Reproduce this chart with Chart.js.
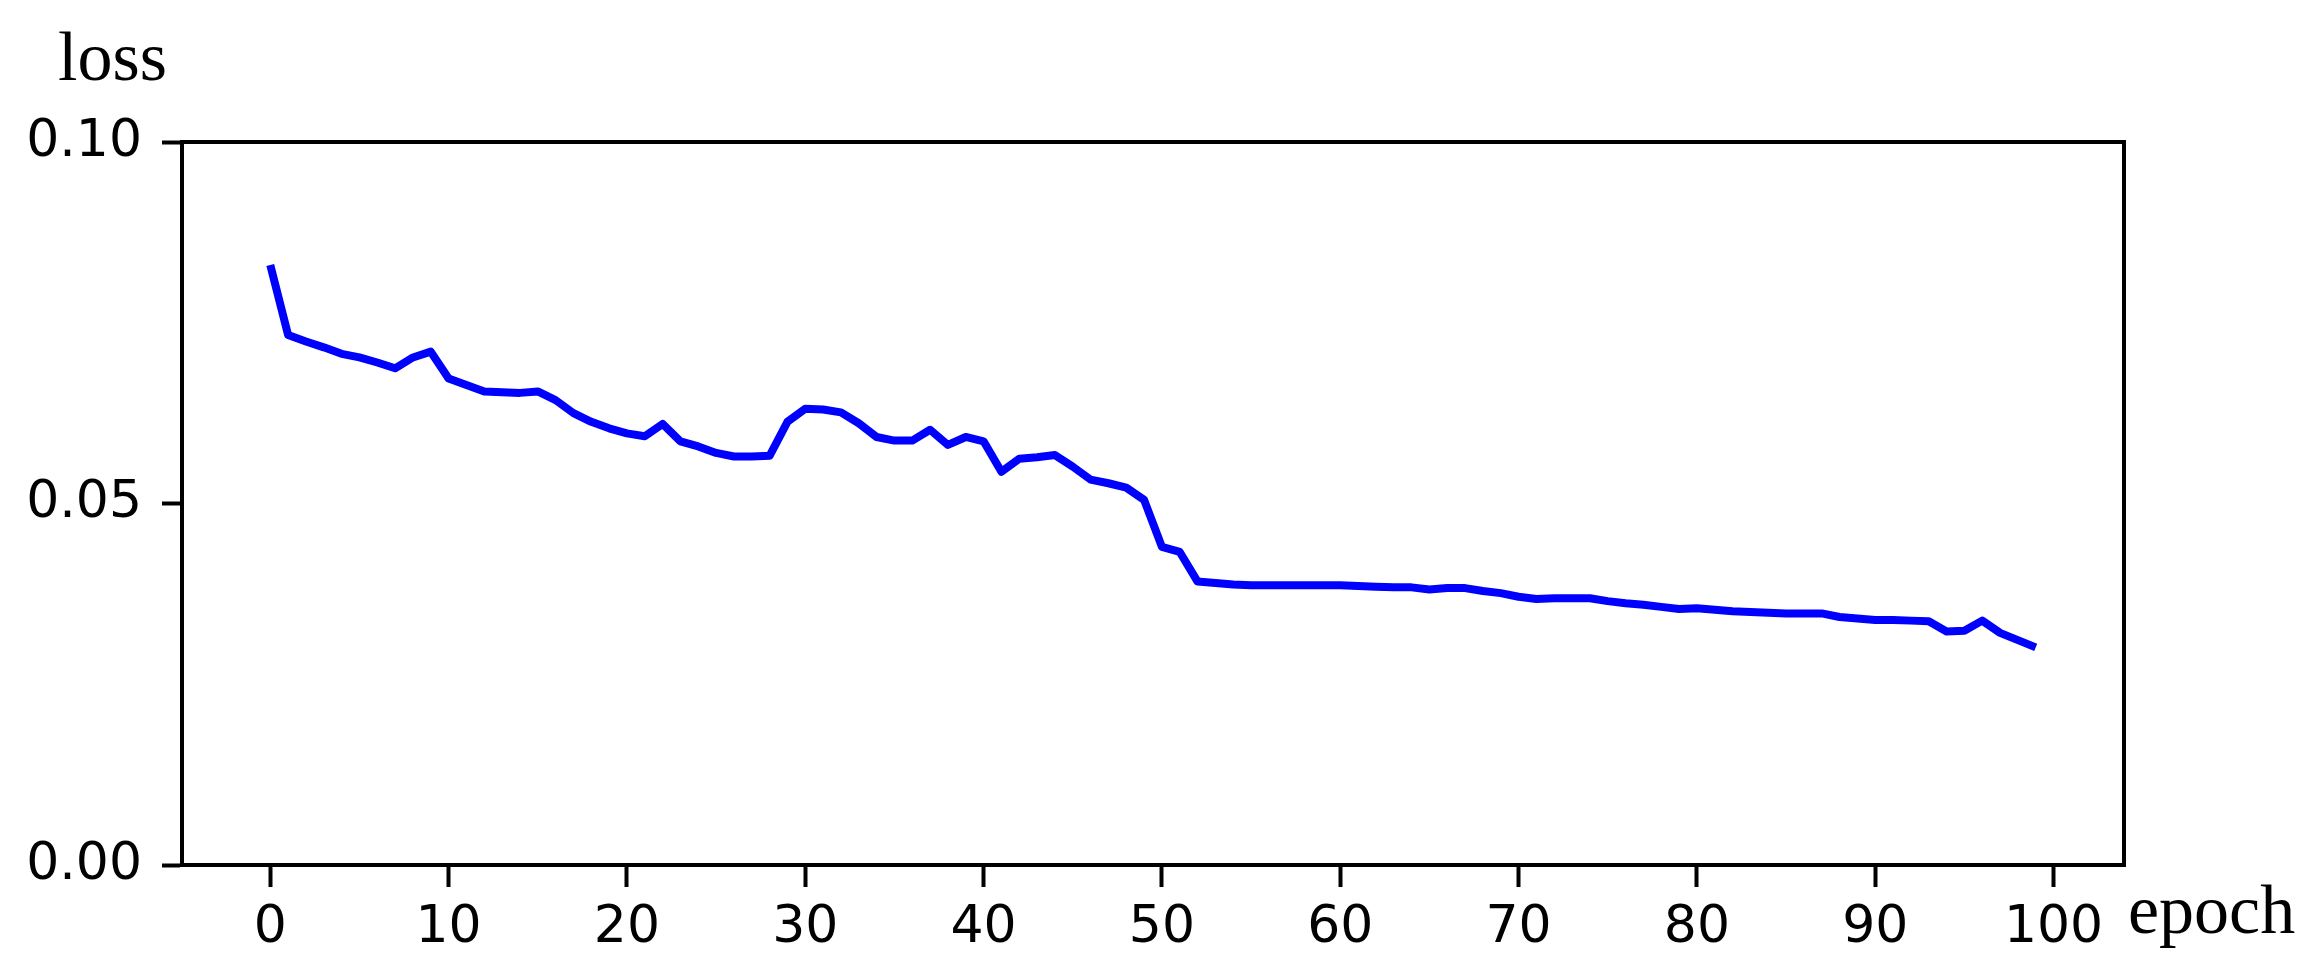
<!DOCTYPE html>
<html>
<head>
<meta charset="utf-8">
<script src="https://cdn.jsdelivr.net/npm/chart.js@4"></script>
<style>
  body { margin: 0; background: #fff; }
  canvas { display: block; }
</style>
</head>
<body>
<canvas id="lossChart" width="2316" height="975"></canvas>
<script>
  // 学習曲線のデータ
  const epochs = Array.from({ length: 100 }, (_, i) => i);
  const lossValues = [
    0.0830, 0.0733, 0.0724, 0.0716, 0.0707, 0.0702, 0.0695, 0.0687, 0.0702, 0.0710,
    0.0673, 0.0664, 0.0655, 0.0654, 0.0653, 0.0655, 0.0643, 0.0625, 0.0613, 0.0604,
    0.0597, 0.0593, 0.0610, 0.0586, 0.0579, 0.0570, 0.0565, 0.0565, 0.0566, 0.0613,
    0.0631, 0.0630, 0.0626, 0.0611, 0.0592, 0.0587, 0.0587, 0.0602, 0.0581, 0.0592,
    0.0586, 0.0544, 0.0562, 0.0564, 0.0567, 0.0551, 0.0533, 0.0528, 0.0522, 0.0505,
    0.0440, 0.0433, 0.0392, 0.0390, 0.0388, 0.0387, 0.0387, 0.0387, 0.0387, 0.0387,
    0.0387, 0.0386, 0.0385, 0.0384, 0.0384, 0.0381, 0.0383, 0.0383, 0.0379, 0.0376,
    0.0371, 0.0368, 0.0369, 0.0369, 0.0369, 0.0365, 0.0362, 0.0360, 0.0357, 0.0354,
    0.0355, 0.0353, 0.0351, 0.0350, 0.0349, 0.0348, 0.0348, 0.0348, 0.0343, 0.0341,
    0.0339, 0.0339, 0.0338, 0.0337, 0.0323, 0.0324, 0.0338, 0.0321, 0.0311, 0.0301
  ];
  const xTicks = [0, 10, 20, 30, 40, 50, 60, 70, 80, 90, 100];
  const yTicks = [0, 0.05, 0.10];
  const xLabel = 'epoch';
  const yLabel = 'loss';

  const xMin = -4.95;
  const xMax = 103.95;

  const tickFont = { family: '"DejaVu Sans"', size: 52 };

  // 枠線と軸ラベル
  const framePlugin = {
    id: 'frame',
    afterDraw(chart) {
      const { ctx, chartArea } = chart;
      ctx.save();
      ctx.strokeStyle = '#000';
      ctx.lineWidth = 4;
      ctx.strokeRect(chartArea.left, chartArea.top,
        chartArea.right - chartArea.left, chartArea.bottom - chartArea.top);
      ctx.fillStyle = '#000';
      ctx.font = '70px "Liberation Serif"';
      ctx.textBaseline = 'alphabetic';
      ctx.textAlign = 'left';
      ctx.fillText(yLabel, 58, 80);
      ctx.fillText(xLabel, chartArea.right + 4, 933);
      ctx.restore();
    }
  };

  const ctx = document.getElementById('lossChart').getContext('2d');
  const lossChart = new Chart(ctx, {
    type: 'line',
    data: {
      labels: epochs,
      datasets: [{
        data: epochs.map((e, i) => ({ x: e, y: lossValues[i] })),
        borderColor: '#0000ff',
        borderWidth: 8,
        pointRadius: 0,
        tension: 0,
        fill: false,
        borderJoinStyle: 'round',
        borderCapStyle: 'butt'
      }]
    },
    options: {
      responsive: false,
      devicePixelRatio: 1,
      animation: false,
      layout: { padding: { top: 142, right: 192, left: 0, bottom: 0 } },
      plugins: {
        legend: { display: false },
        tooltip: { enabled: false }
      },
      scales: {
        x: {
          type: 'linear',
          min: xMin,
          max: xMax,
          afterBuildTicks: (scale) => { scale.ticks = xTicks.map(v => ({ value: v })); },
          afterFit: (scale) => { scale.height = 110; },
          grid: { drawOnChartArea: false, drawTicks: true, tickLength: 22, tickWidth: 4, tickColor: '#000' },
          border: { display: true, color: '#000', width: 4 },
          ticks: {
            color: '#000',
            font: tickFont,
            padding: 10,
            maxRotation: 0,
            autoSkip: false,
            callback: (v) => String(v)
          }
        },
        y: {
          type: 'linear',
          min: 0,
          max: 0.10,
          afterBuildTicks: (scale) => { scale.ticks = yTicks.map(v => ({ value: v })); },
          afterFit: (scale) => { scale.width = 182; },
          grid: { drawOnChartArea: false, drawTicks: true, tickLength: 20, tickWidth: 4, tickColor: '#000' },
          border: { display: true, color: '#000', width: 4 },
          ticks: {
            color: '#000',
            font: tickFont,
            padding: 20,
            callback: (v) => v.toFixed(2)
          }
        }
      }
    },
    plugins: [framePlugin]
  });
</script>
</body>
</html>
